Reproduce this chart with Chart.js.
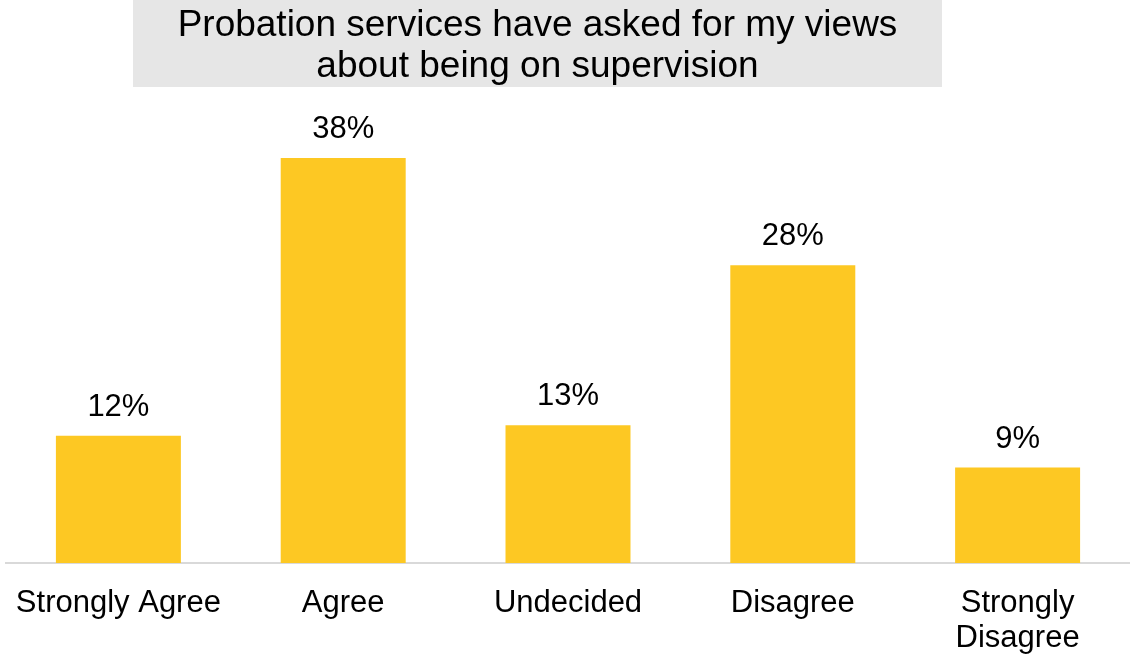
<!DOCTYPE html>
<html>
<head>
<meta charset="utf-8">
<script src="https://cdn.jsdelivr.net/npm/chart.js@4"></script>
<style>
  html, body { margin: 0; padding: 0; background: #ffffff; }
  #wrap { width: 1130px; height: 656px; position: relative; }
</style>
</head>
<body>
<div id="wrap"><canvas id="chart"></canvas></div>
<script>
const titleLines = ["Probation services have asked for my views", "about being on supervision"]
const categories = ["Strongly Agree", "Agree", "Undecided", "Disagree", ["Strongly", "Disagree"]]
const percentages = [12.0, 38.2, 13.0, 28.1, 9.0]

const FONT = "'Liberation Sans', Arial, sans-serif"

// grey title box at the top
const titleBox = {
  id: "titleBox",
  beforeDraw(chart) {
    const ctx = chart.ctx
    ctx.save()
    ctx.fillStyle = "#e6e6e6"
    ctx.fillRect(133, 0, 809, 87)
    ctx.fillStyle = "#000000"
    ctx.font = `37px ${FONT}`
    ctx.textAlign = "center"
    ctx.textBaseline = "alphabetic"
    ctx.fillText(titleLines[0], 537.5, 36)
    ctx.fillText(titleLines[1], 537.5, 77)
    ctx.restore()
  }
}

// percentage labels above each bar
const barLabels = {
  id: "barLabels",
  afterDatasetsDraw(chart) {
    const ctx = chart.ctx
    const meta = chart.getDatasetMeta(0)
    ctx.save()
    ctx.fillStyle = "#000000"
    ctx.font = `31px ${FONT}`
    ctx.textAlign = "center"
    ctx.textBaseline = "alphabetic"
    meta.data.forEach((bar, i) => {
      ctx.fillText(`${Math.round(percentages[i])}%`, bar.x, bar.y - 20)
    })
    ctx.restore()
  }
}

new Chart(document.getElementById("chart"), {
  type: "bar",
  data: {
    labels: categories,
    datasets: [{
      data: percentages,
      backgroundColor: "#fdc823",
      borderWidth: 0,
      categoryPercentage: 1,
      barPercentage: 0.556
    }]
  },
  options: {
    responsive: true,
    maintainAspectRatio: false,
    animation: false,
    layout: {
      autoPadding: false,
      padding: { top: 139, left: 6, right: 0, bottom: 0 }
    },
    plugins: {
      legend: { display: false },
      tooltip: { enabled: false }
    },
    scales: {
      x: {
        grid: { display: false, drawTicks: true, tickLength: 23 },
        border: { display: true, color: "#d9d9d9", width: 2 },
        ticks: {
          color: "#000000",
          padding: 0,
          maxRotation: 0,
          autoSkip: false,
          font: { family: FONT, size: 31, lineHeight: 1.12 }
        },
        afterFit(scale) {
          scale.height = 93
          scale.paddingLeft = 0
          scale.paddingRight = 0
        }
      },
      y: {
        display: false,
        min: 0,
        max: 40
      }
    }
  },
  plugins: [titleBox, barLabels]
})
</script>
</body>
</html>
